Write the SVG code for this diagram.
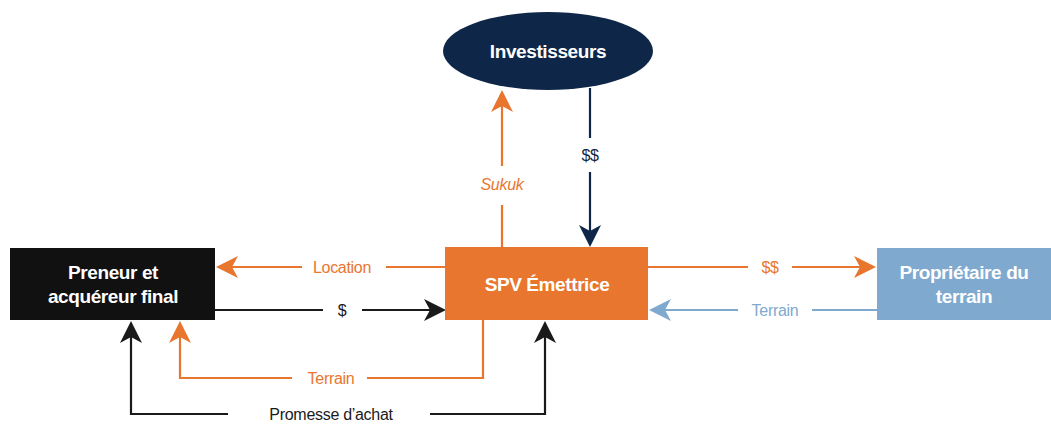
<svg xmlns="http://www.w3.org/2000/svg" width="1051" height="424" viewBox="0 0 1051 424">
  <style>
    .node-label { font-family: "Liberation Sans", Arial, sans-serif; font-weight: bold; font-size: 19px; fill: #ffffff; text-anchor: middle; letter-spacing: -0.4px; }
    .edge-label { font-family: "Liberation Sans", Arial, sans-serif; font-size: 16px; text-anchor: middle; letter-spacing: -0.3px; }
    .line { fill: none; stroke-width: 2.2; }
    .orange { stroke: #E8762F; }
    .navy { stroke: #0E2748; }
    .blue { stroke: #7FA9CE; }
    .black { stroke: #1A1A1A; }
  </style>
  <defs>
    <!-- arrowhead pointing along +x, tip at origin -->
    <path id="head" d="M0,0 L-22,-11 L-16,0 L-22,11 Z"/>
  </defs>
  <rect width="1051" height="424" fill="#ffffff"/>

  <g id="connectors">
    <!-- SPV -> Investisseurs (Sukuk) -->
    <path class="line orange" d="M502,248 V205 M502,166 V100"/>
    <use href="#head" fill="#E8762F" transform="translate(502,90) rotate(-90)"/>
    <text class="edge-label" x="502" y="190" fill="#E8762F" font-style="italic">Sukuk</text>

    <!-- Investisseurs -> SPV ($$) -->
    <path class="line navy" d="M590,88 V138 M590,172 V238"/>
    <use href="#head" fill="#0E2748" transform="translate(590,247) rotate(90)"/>
    <text class="edge-label" x="590" y="161" fill="#0E2748">$$</text>

    <!-- SPV -> Preneur (Location) -->
    <path class="line orange" d="M445,267 H386 M302,267 H226"/>
    <use href="#head" fill="#E8762F" transform="translate(216,267) rotate(180)"/>
    <text class="edge-label" x="342" y="273" fill="#E8762F">Location</text>

    <!-- Preneur -> SPV ($) -->
    <path class="line black" d="M215,310 H323 M362,310 H436"/>
    <use href="#head" fill="#1A1A1A" transform="translate(446,310)"/>
    <text class="edge-label" x="342" y="316" fill="#1A1A1A">$</text>

    <!-- SPV -> Propriétaire ($$) -->
    <path class="line orange" d="M648,267 H748 M792,267 H866"/>
    <use href="#head" fill="#E8762F" transform="translate(876,267)"/>
    <text class="edge-label" x="770" y="273" fill="#E8762F">$$</text>

    <!-- Propriétaire -> SPV (Terrain) -->
    <path class="line blue" d="M877,310 H812 M738,310 H659"/>
    <use href="#head" fill="#7FA9CE" transform="translate(649,310) rotate(180)"/>
    <text class="edge-label" x="775" y="316" fill="#7FA9CE">Terrain</text>

    <!-- SPV -> Preneur (Terrain) -->
    <path class="line orange" d="M483,320 V378 H367 M292,378 H180 V331"/>
    <use href="#head" fill="#E8762F" transform="translate(180,321) rotate(-90)"/>
    <text class="edge-label" x="331" y="384" fill="#E8762F">Terrain</text>

    <!-- Preneur <- Promesse d'achat -> SPV -->
    <path class="line black" d="M228,414 H131 V331 M430,414 H545 V331"/>
    <use href="#head" fill="#1A1A1A" transform="translate(131,321) rotate(-90)"/>
    <use href="#head" fill="#1A1A1A" transform="translate(545,321) rotate(-90)"/>
    <text class="edge-label" x="331" y="420" fill="#1A1A1A">Promesse d’achat</text>
  </g>

  <g id="investisseurs">
    <ellipse cx="548" cy="51" rx="105" ry="39" fill="#0E2748"/>
    <text class="node-label" x="548" y="58">Investisseurs</text>
  </g>

  <g id="spv">
    <rect x="445" y="247" width="203" height="73" fill="#E8762F"/>
    <text class="node-label" x="547" y="291">SPV Émettrice</text>
  </g>

  <g id="preneur">
    <rect x="10" y="248" width="205" height="72" fill="#111111"/>
    <text class="node-label" x="113" y="279">Preneur et</text>
    <text class="node-label" x="113" y="303">acquéreur final</text>
  </g>

  <g id="proprietaire">
    <rect x="877" y="248" width="174" height="72" fill="#7FA9CE"/>
    <text class="node-label" x="964" y="279">Propriétaire du</text>
    <text class="node-label" x="964" y="303">terrain</text>
  </g>
</svg>
